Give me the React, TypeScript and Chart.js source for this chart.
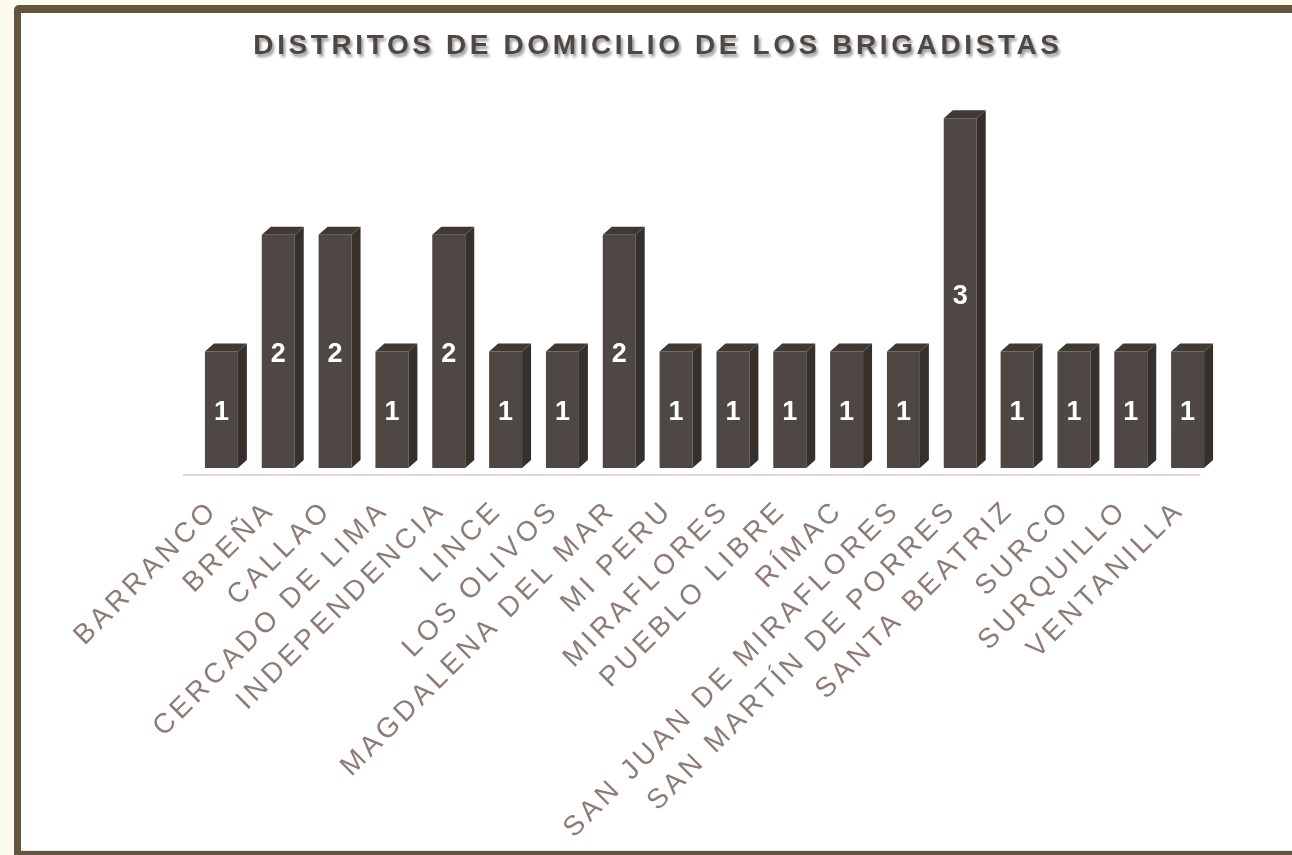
import React, { useEffect, useRef } from "react";
import { Chart, registerables } from "chart.js";

Chart.register(...registerables);

const TITLE = "DISTRITOS DE DOMICILIO DE LOS BRIGADISTAS";
const categories = [
  "BARRANCO",
  "BREÑA",
  "CALLAO",
  "CERCADO DE LIMA",
  "INDEPENDENCIA",
  "LINCE",
  "LOS OLIVOS",
  "MAGDALENA DEL MAR",
  "MI PERU",
  "MIRAFLORES",
  "PUEBLO LIBRE",
  "RÍMAC",
  "SAN JUAN DE MIRAFLORES",
  "SAN MARTÍN DE PORRES",
  "SANTA BEATRIZ",
  "SURCO",
  "SURQUILLO",
  "VENTANILLA",
];
const values = [1, 2, 2, 1, 2, 1, 1, 2, 1, 1, 1, 1, 1, 3, 1, 1, 1, 1];

const FONT = "'Liberation Sans', Arial, sans-serif";
const FRONT = "#4e4743";
const SIDE = "#36302c";
const TOP = "#3f3833";
const LABEL_COLOR = "#8d7c76";
const DEPTH_X = 9;
const DEPTH_Y = 8;

const decorPlugin = {
  id: "decor",
  beforeDraw(chart: any) {
    const ctx = chart.ctx as CanvasRenderingContext2D;
    const W = chart.width;
    const H = chart.height;
    ctx.save();
    ctx.fillStyle = "#fdfbeb";
    ctx.fillRect(0, 0, W, H);
    ctx.fillStyle = "#645440";
    ctx.beginPath();
    (ctx as any).roundRect(14, 5, W + 20, H + 20, 5);
    ctx.fill();
    ctx.fillStyle = "#ffffff";
    ctx.fillRect(21, 13, W, H - 13 - 4);
    ctx.fillStyle = "#e6e2dd";
    ctx.fillRect(21, H - 5, W, 1);

    // title
    ctx.font = `bold 28px ${FONT}`;
    (ctx as any).letterSpacing = "3.6px";
    ctx.textAlign = "center";
    ctx.textBaseline = "middle";
    ctx.shadowColor = "rgba(0,0,0,0.4)";
    ctx.shadowOffsetX = 2;
    ctx.shadowOffsetY = 3;
    ctx.shadowBlur = 3;
    ctx.fillStyle = FRONT;
    ctx.fillText(TITLE, 656 + 2, 46);
    ctx.restore();
  },
  beforeDatasetsDraw(chart: any) {
    const ctx = chart.ctx as CanvasRenderingContext2D;
    const a = chart.chartArea;
    ctx.save();
    ctx.fillStyle = "#dedada";
    ctx.fillRect(a.left - 10, a.bottom + 6, a.right - a.left - 6, 2);
    ctx.restore();
  },
  afterDatasetsDraw(chart: any) {
    const ctx = chart.ctx as CanvasRenderingContext2D;
    const meta = chart.getDatasetMeta(0);
    ctx.save();
    meta.data.forEach((bar: any, i: number) => {
      const { x, y, base, width } = bar.getProps(["x", "y", "base", "width"], true);
      const x0 = x - width / 2;
      const x1 = x + width / 2;
      // side face
      ctx.fillStyle = SIDE;
      ctx.beginPath();
      ctx.moveTo(x1, y);
      ctx.lineTo(x1 + DEPTH_X, y - DEPTH_Y);
      ctx.lineTo(x1 + DEPTH_X, base - DEPTH_Y);
      ctx.lineTo(x1, base);
      ctx.closePath();
      ctx.fill();
      // top face
      ctx.fillStyle = TOP;
      ctx.beginPath();
      ctx.moveTo(x0, y);
      ctx.lineTo(x0 + DEPTH_X, y - DEPTH_Y);
      ctx.lineTo(x1 + DEPTH_X, y - DEPTH_Y);
      ctx.lineTo(x1, y);
      ctx.closePath();
      ctx.fill();
      // value label
      ctx.fillStyle = "#ffffff";
      ctx.font = `bold 27px ${FONT}`;
      ctx.textAlign = "center";
      ctx.textBaseline = "middle";
      ctx.fillText(String(values[i]), x, (y + base) / 2 + 3);
    });
    ctx.restore();
  },
  afterDraw(chart: any) {
    const ctx = chart.ctx as CanvasRenderingContext2D;
    const xs = chart.scales.x;
    const spacing = 4;
    ctx.save();
    ctx.font = `28px ${FONT}`;
    (ctx as any).letterSpacing = `${spacing}px`;
    ctx.fillStyle = LABEL_COLOR;
    ctx.textAlign = "right";
    ctx.textBaseline = "alphabetic";
    categories.forEach((lab, i) => {
      const px = xs.getPixelForValue(i);
      ctx.save();
      ctx.translate(px - 5, 514);
      ctx.rotate(-Math.PI / 4);
      ctx.fillText(lab, spacing, 0);
      ctx.restore();
    });
    ctx.restore();
  },
};

export default function App() {
  const ref = useRef<HTMLCanvasElement | null>(null);
  useEffect(() => {
    document.body.style.margin = "0";
    const canvas = ref.current!;
    const chart = new Chart(canvas, {
      type: "bar",
      data: {
        labels: categories,
        datasets: [
          {
            data: values,
            backgroundColor: FRONT,
            borderWidth: 0,
            barPercentage: 0.58,
            categoryPercentage: 1,
          },
        ],
      },
      options: {
        responsive: false,
        animation: false,
        events: [],
        layout: { padding: { left: 193, right: 76, top: 60, bottom: 387 } },
        plugins: {
          legend: { display: false },
          title: { display: false },
          tooltip: { enabled: false },
        },
        scales: {
          x: { display: false },
          y: { display: false, min: 0, max: 3.5 },
        },
      },
      plugins: [decorPlugin],
    });
    return () => chart.destroy();
  }, []);
  return (
    <div style={{ width: 1292, height: 855 }}>
      <canvas ref={ref} width={1292} height={855} style={{ display: "block", width: 1292, height: 855 }} />
    </div>
  );
}
